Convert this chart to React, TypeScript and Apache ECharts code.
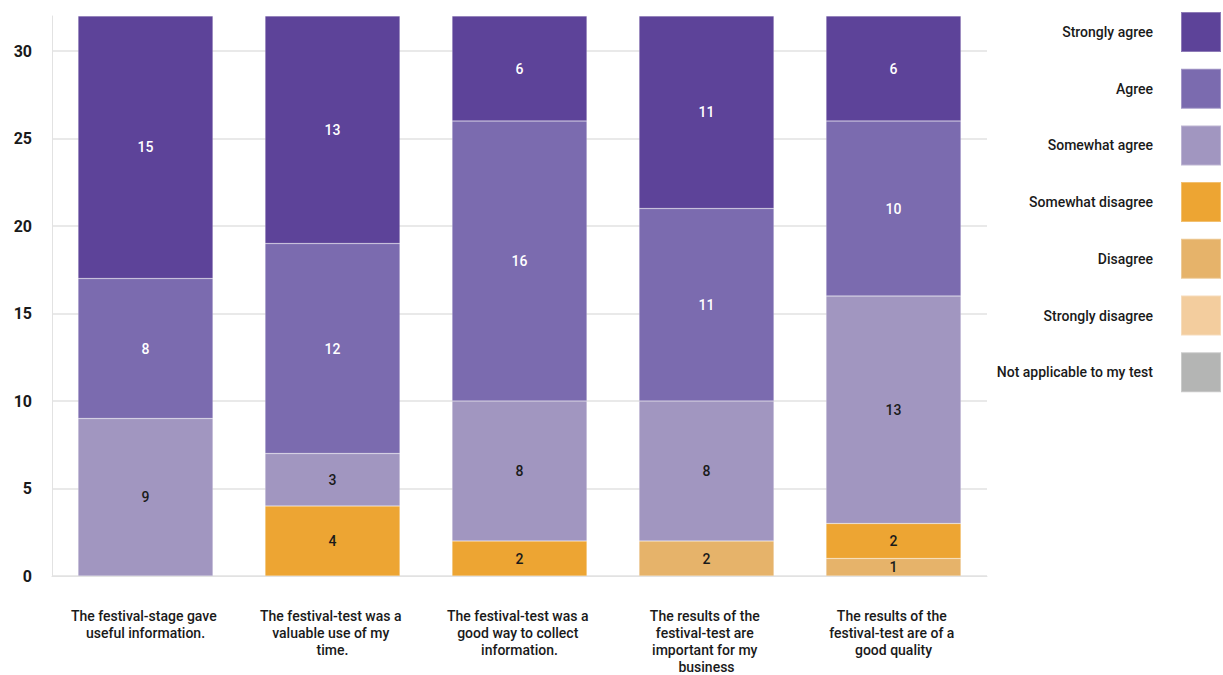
import React, { useEffect, useRef } from "react";
import * as echarts from "echarts";

// Survey statements (x-axis categories)
const statements = [
  "The festival-stage gave useful information.",
  "The festival-test was a valuable use of my time.",
  "The festival-test was a good way to collect information.",
  "The results of the festival-test are important for my business",
  "The results of the festival-test are of a good quality",
];

// Answer counts per statement, one array per response option
const notApplicable = [0, 0, 0, 0, 0];
const stronglyDisagree = [0, 0, 0, 0, 0];
const disagree = [0, 0, 0, 2, 1];
const somewhatDisagree = [0, 4, 2, 0, 2];
const somewhatAgree = [9, 3, 8, 8, 13];
const agree = [8, 12, 16, 11, 10];
const stronglyAgree = [15, 13, 6, 11, 6];

const yTicks = [0, 5, 10, 15, 20, 25, 30];

// Stack order, bottom to top
const responses = [
  { name: "Not applicable to my test", values: notApplicable, color: "#b4b5b4", label: "#1a1a1a" },
  { name: "Strongly disagree", values: stronglyDisagree, color: "#f3cd9e", label: "#1a1a1a" },
  { name: "Disagree", values: disagree, color: "#e6b36a", label: "#1a1a1a" },
  { name: "Somewhat disagree", values: somewhatDisagree, color: "#eda533", label: "#1a1a1a" },
  { name: "Somewhat agree", values: somewhatAgree, color: "#a196c0", label: "#1a1a1a" },
  { name: "Agree", values: agree, color: "#7b6baf", label: "#ffffff" },
  { name: "Strongly agree", values: stronglyAgree, color: "#5d4399", label: "#ffffff" },
];

const FONT = "Roboto, 'Noto Sans', sans-serif";

export default function App() {
  const ref = useRef<HTMLDivElement>(null);

  useEffect(() => {
    if (!ref.current) return;
    const chart = echarts.init(ref.current, null, { renderer: "svg" });

    const series = responses.map((r) => ({
      name: r.name,
      type: "bar",
      stack: "total",
      barWidth: 135,
      data: r.values.map((v) => (v === 0 ? "-" : v)),
      itemStyle: {
        color: r.color,
        borderColor: "rgba(255,255,255,0.3)",
        borderWidth: 0.6,
      },
      label: {
        show: true,
        position: "inside",
        color: r.label,
        fontFamily: FONT,
        fontSize: 14,
        fontWeight: 500,
      },
      emphasis: { disabled: true },
    }));

    chart.setOption({
      animation: false,
      textStyle: { fontFamily: FONT },
      grid: {
        left: 52,
        right: 236,
        top: 16,
        bottom: 99,
        outerBoundsMode: "none",
        containLabel: false,
      },
      legend: {
        orient: "vertical",
        right: 1,
        top: 11,
        padding: 0,
        align: "right",
        itemWidth: 40,
        itemHeight: 40,
        itemGap: 14.7,
        icon: "rect",
        selectedMode: false,
        data: responses.map((r) => r.name).reverse(),
        textStyle: {
          fontFamily: FONT,
          fontSize: 14,
          fontWeight: 500,
          color: "#1a1a1a",
          padding: [0, 23, 0, 0],
        },
      },
      xAxis: {
        type: "category",
        data: statements,
        axisTick: { show: false },
        axisLine: { show: true, lineStyle: { color: "#e2e2e2", width: 1 } },
        axisLabel: {
          interval: 0,
          margin: 32,
          width: 150,
          overflow: "break",
          lineHeight: 16.8,
          fontFamily: FONT,
          fontSize: 14,
          fontWeight: 500,
          color: "#1a1a1a",
          align: "center",
        },
      },
      yAxis: {
        type: "value",
        min: 0,
        max: 32,
        interval: 5,
        axisLine: { show: true, lineStyle: { color: "#e2e2e2", width: 1 } },
        axisTick: { show: false },
        splitLine: {
          show: true,
          showMaxLine: false,
          lineStyle: { color: "#e2e2e2", width: 1.5 },
        },
        axisLabel: {
          margin: 20,
          showMaxLabel: false,
          fontFamily: FONT,
          fontSize: 16,
          fontWeight: "bold",
          color: "#1a1a1a",
          formatter: (v: number) => (yTicks.includes(v) ? String(v) : ""),
        },
      },
      series,
    });

    return () => chart.dispose();
  }, []);

  return (
    <div
      ref={ref}
      style={{ position: "fixed", left: 0, top: 0, width: 1223, height: 675, background: "#fff" }}
    />
  );
}
